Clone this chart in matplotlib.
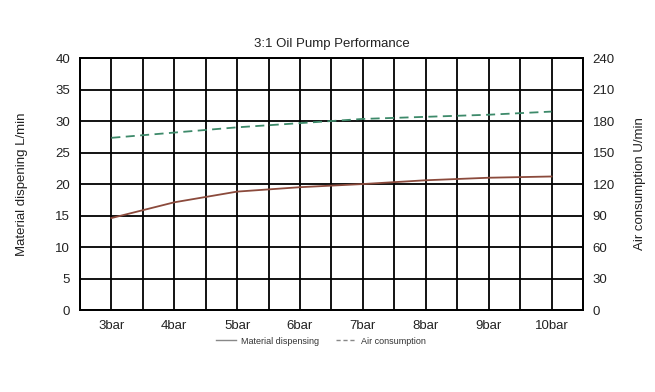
import numpy as np
import matplotlib
matplotlib.use('Agg')
import matplotlib.pyplot as plt

# data
pressures = [3, 4, 5, 6, 7, 8, 9, 10]
labels = ['3bar', '4bar', '5bar', '6bar', '7bar', '8bar', '9bar', '10bar']
material = [14.6, 17.1, 18.8, 19.5, 20.0, 20.6, 21.0, 21.2]
air = [164, 169, 174, 178, 182, 184, 186, 189]

plt.rcParams['font.family'] = ['Liberation Sans', 'DejaVu Sans']

fig = plt.figure(figsize=(6.55, 3.92), dpi=100)
ax = fig.add_axes([0.122, 0.209, 0.768, 0.643])
ax2 = ax.twinx()

ax.plot(pressures, material, color='#8b4a3c', lw=1.3, zorder=3)
ax2.plot(pressures, air, color='#3d8a6a', lw=1.3, ls=(0, (5, 3)), zorder=3)

ax.set_xlim(2.5, 10.5)
ax.set_ylim(0, 40)
ax2.set_ylim(0, 240)
ax.set_xticks(pressures)
ax.set_xticklabels(labels)
ax.set_xticks(np.arange(2.5, 10.6, 0.5), minor=True)
ax.set_yticks(range(0, 41, 5))
ax2.set_yticks(range(0, 241, 30))

ax.grid(True, which='both', axis='x', color='black', lw=1.3)
ax.grid(True, axis='y', color='black', lw=1.3)
ax.set_axisbelow(True)
ax.tick_params(which='both', length=0, labelsize=9.5, colors='#222222', pad=7)
ax2.tick_params(length=0, labelsize=9.5, colors='#222222', pad=7)
for a in (ax, ax2):
    for s in a.spines.values():
        s.set_color('black')
        s.set_linewidth(1.3)

ax.set_ylabel('Material dispening L/min', fontsize=9.5, color='#222222', labelpad=20)
ax2.set_ylabel('Air consumption U/min', fontsize=9.5, color='#222222', labelpad=14)
ax.set_title('3:1 Oil Pump Performance', fontsize=9.5, color='#222222', pad=8)

# legend below the axes
l1, = ax.plot([], [], color='#888888', lw=1.0, label='Material dispensing')
l2, = ax.plot([], [], color='#888888', lw=1.0, ls=(0, (3, 2)), label='Air consumption')
fig.legend(handles=[l1, l2], loc='center', bbox_to_anchor=(0.49, 0.13), ncol=2,
           frameon=False, fontsize=6.5, handlelength=2.2, handletextpad=0.6,
           columnspacing=1.8, labelcolor='#333333')

fig.savefig('out.png', dpi=100)
